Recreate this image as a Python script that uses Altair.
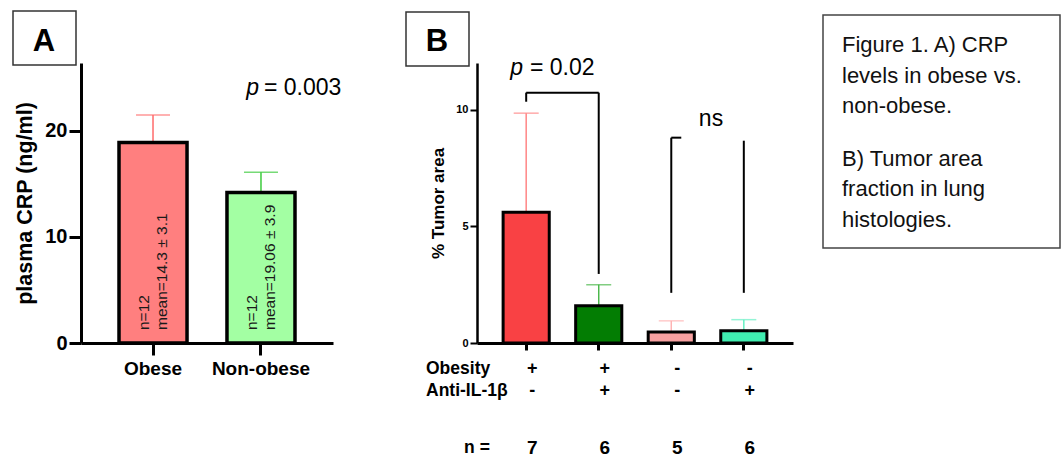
import altair as alt
import pandas as pd

FONT = "Liberation Sans"

# ---------------- Panel A data ----------------
groups_a = ["Obese", "Non-obese"]
crp_mean = [18.9, 14.2]
crp_err_top = [21.5, 16.1]
n_text_a = ["n=12", "n=12"]
mean_text_a = ["mean=14.3 ± 3.1", "mean=19.06 ± 3.9"]
bar_colors_a = ["#FF7F7F", "#A3FFA3"]
err_colors_a = ["#FF6B6B", "#3CCB3C"]

# ---------------- Panel B data ----------------
groups_b = ["G1", "G2", "G3", "G4"]
tumor_mean = [5.6, 1.6, 0.47, 0.52]
tumor_err_top = [9.85, 2.5, 0.95, 1.0]
obesity_signs = ["+", "+", "-", "-"]
anti_signs = ["-", "+", "-", "+"]
n_b = ["7", "6", "5", "6"]
bar_colors_b = ["#F94144", "#037D03", "#F7A0A0", "#40EDB0"]
err_colors_b = ["#FF8585", "#4CB84C", "#FFB3B3", "#66F0C4"]

# brackets (significance annotations)
vert_groups = ["G1", "G2", "G3", "G4"]
vert_top = [10.73, 10.73, 8.8, 8.67]
vert_bottom = [10.34, 2.96, 2.15, 2.15]
horiz_from = ["G1"]
horiz_to = ["G2"]
horiz_y = [10.73]
hook_group = ["G3"]
hook_y = [8.8]

row_labels = ["Obesity", "Anti-IL-1β", "n ="]
caption_a = ["Figure 1. A) CRP", "levels in obese vs.", "non-obese."]
caption_b = ["B) Tumor area", "fraction in lung", "histologies."]

# ====================== PANEL A ======================
WA, HA = 252, 280
dfa = pd.DataFrame({"group": groups_a, "mean": crp_mean, "err": crp_err_top,
                    "n": n_text_a, "m": mean_text_a})

xa = alt.X("group:N", sort=groups_a,
           scale=alt.Scale(paddingInner=0.37, paddingOuter=0.352),
           axis=alt.Axis(title=None, labelAngle=0, labelFont=FONT, labelFontSize=19,
                         labelFontWeight="bold", labelColor="black", tickSize=12,
                         tickWidth=3, tickColor="black", domainWidth=3,
                         domainColor="black", labelPadding=4))
ya_scale = alt.Scale(domain=[0, 26.4], nice=False, zero=True)
ya = alt.Y("mean:Q", scale=ya_scale,
           axis=alt.Axis(title="plasma CRP (ng/ml)", values=[0, 10, 20], labelFont=FONT,
                         labelFontSize=20, labelFontWeight="bold", labelColor="black",
                         tickSize=12, tickWidth=3, tickColor="black", domainWidth=3,
                         domainColor="black", labelPadding=2, titleFont=FONT,
                         titleFontSize=21.5, titleFontWeight="bold", titleColor="black",
                         titlePadding=8))

base_a = alt.Chart(dfa)
err_rule_a = base_a.mark_rule(strokeWidth=1.5).encode(
    x=xa, y=ya, y2="err:Q",
    color=alt.Color("group:N", scale=alt.Scale(domain=groups_a, range=err_colors_a), legend=None))
err_cap_a = base_a.mark_tick(size=34, thickness=1.5).encode(
    x=xa, y=alt.Y("err:Q", scale=ya_scale),
    color=alt.Color("group:N", scale=alt.Scale(domain=groups_a, range=err_colors_a), legend=None))
bars_a = base_a.mark_bar(stroke="black", strokeWidth=3.5).encode(
    x=xa, y=alt.Y("mean:Q", scale=ya_scale),
    fill=alt.Fill("group:N", scale=alt.Scale(domain=groups_a, range=bar_colors_a), legend=None))
txt_n_a = base_a.mark_text(angle=270, align="left", baseline="middle", font=FONT,
                           fontSize=15.5, color="#1a1a1a", xOffset=-9).encode(
    x=xa, y=alt.value(HA - 13), text="n:N")
txt_m_a = base_a.mark_text(angle=270, align="left", baseline="middle", font=FONT,
                           fontSize=15.5, color="#1a1a1a", xOffset=9).encode(
    x=xa, y=alt.value(HA - 13), text="m:N")

one = pd.DataFrame({"k": [0]})
box_a = alt.Chart(one).mark_rect(filled=False, stroke="#333", strokeWidth=1.5).encode(
    x=alt.value(-68), x2=alt.value(-5), y=alt.value(-52), y2=alt.value(2))
letter_a = alt.Chart(one).mark_text(text="A", font=FONT, fontSize=31, fontWeight="bold",
                                    color="black", align="center", baseline="middle").encode(
    x=alt.value(-37), y=alt.value(-21))
p_a = alt.Chart(one).mark_text(text="p", font=FONT, fontSize=23, fontStyle="italic",
                               color="black", align="right", baseline="middle").encode(
    x=alt.value(178), y=alt.value(25))
pv_a = alt.Chart(one).mark_text(text="= 0.003", font=FONT, fontSize=23,
                                color="black", align="left", baseline="middle").encode(
    x=alt.value(183), y=alt.value(25))

panel_a = alt.layer(err_rule_a, err_cap_a, bars_a, txt_n_a, txt_m_a, box_a, letter_a,
                    p_a, pv_a).properties(width=WA, height=HA)

# ====================== PANEL B ======================
WB, HB = 316, 280
dfb = pd.DataFrame({"group": groups_b, "mean": tumor_mean, "err": tumor_err_top,
                    "ob": obesity_signs, "anti": anti_signs, "n": n_b})

band_b = alt.Scale(paddingInner=0.364, paddingOuter=0.36)
xb = alt.X("group:N", sort=groups_b, scale=band_b,
           axis=alt.Axis(title=None, labels=False, tickSize=7, tickWidth=3,
                         tickColor="black", domainWidth=3, domainColor="black"))
yb_scale = alt.Scale(domain=[0, 12], nice=False, zero=True)
yb = alt.Y("mean:Q", scale=yb_scale,
           axis=alt.Axis(title="% Tumor area", values=[0, 5, 10], labelFont=FONT,
                         labelFontSize=11, labelFontWeight="bold", labelColor="black",
                         tickSize=7, tickWidth=2, tickColor="black", domainWidth=2.5,
                         domainColor="black", labelPadding=2, titleFont=FONT,
                         titleFontSize=17, titleFontWeight="bold", titleColor="black",
                         titlePadding=8))

base_b = alt.Chart(dfb)
err_rule_b = base_b.mark_rule(strokeWidth=1.5).encode(
    x=xb, y=yb, y2="err:Q",
    color=alt.Color("group:N", scale=alt.Scale(domain=groups_b, range=err_colors_b), legend=None))
err_cap_b = base_b.mark_tick(size=25, thickness=1.5).encode(
    x=xb, y=alt.Y("err:Q", scale=yb_scale),
    color=alt.Color("group:N", scale=alt.Scale(domain=groups_b, range=err_colors_b), legend=None))
bars_b = base_b.mark_bar(stroke="black", strokeWidth=3).encode(
    x=xb, y=alt.Y("mean:Q", scale=yb_scale),
    fill=alt.Fill("group:N", scale=alt.Scale(domain=groups_b, range=bar_colors_b), legend=None))

row_ob = base_b.mark_text(font=FONT, fontSize=18, fontWeight="bold", color="black",
                          baseline="middle", xOffset=6).encode(x=xb, y=alt.value(306), text="ob:N")
row_anti = base_b.mark_text(font=FONT, fontSize=18, fontWeight="bold", color="black",
                            baseline="middle", xOffset=6).encode(x=xb, y=alt.value(328), text="anti:N")
row_n = base_b.mark_text(font=FONT, fontSize=19, fontWeight="bold", color="black",
                         baseline="middle", xOffset=6).encode(x=xb, y=alt.value(385), text="n:N")

lab_layers = []
for lab, yy, xx, al in zip(row_labels, [306, 328, 385], [-51, -51, 0], ["left", "left", "center"]):
    lab_layers.append(alt.Chart(one).mark_text(text=lab, font=FONT, fontSize=17.5,
                                               fontWeight="bold", color="black", align=al,
                                               baseline="middle").encode(
        x=alt.value(xx), y=alt.value(yy)))

dv = pd.DataFrame({"group": vert_groups, "top": vert_top, "bottom": vert_bottom})
vert = alt.Chart(dv).mark_rule(color="black", strokeWidth=2).encode(
    x=alt.X("group:N", sort=groups_b, scale=band_b),
    y=alt.Y("top:Q", scale=yb_scale), y2="bottom:Q")
dh = pd.DataFrame({"g1": horiz_from, "g2": horiz_to, "y": horiz_y})
horiz = alt.Chart(dh).mark_rule(color="black", strokeWidth=2).encode(
    x=alt.X("g1:N", sort=groups_b, bandPosition=0.5, scale=band_b),
    x2=alt.X2("g2:N", bandPosition=0.5),
    y=alt.Y("y:Q", scale=yb_scale))
dk = pd.DataFrame({"g": hook_group, "y": hook_y})
hook = alt.Chart(dk).mark_rule(color="black", strokeWidth=2, x2Offset=10).encode(
    x=alt.X("g:N", sort=groups_b, bandPosition=0.5, scale=band_b),
    x2=alt.X2("g:N", bandPosition=0.5),
    y=alt.Y("y:Q", scale=yb_scale))

box_b = alt.Chart(one).mark_rect(filled=False, stroke="#333", strokeWidth=1.5).encode(
    x=alt.value(-71), x2=alt.value(-8), y=alt.value(-51), y2=alt.value(3))
letter_b = alt.Chart(one).mark_text(text="B", font=FONT, fontSize=31, fontWeight="bold",
                                    color="black", align="center", baseline="middle").encode(
    x=alt.value(-40), y=alt.value(-21))
p_b = alt.Chart(one).mark_text(text="p", font=FONT, fontSize=23, fontStyle="italic",
                               color="black", align="right", baseline="middle").encode(
    x=alt.value(46), y=alt.value(5))
pv_b = alt.Chart(one).mark_text(text="= 0.02", font=FONT, fontSize=23,
                                color="black", align="left", baseline="middle").encode(
    x=alt.value(53), y=alt.value(5))
ns_b = alt.Chart(one).mark_text(text="ns", font=FONT, fontSize=23,
                                color="black", align="center", baseline="middle").encode(
    x=alt.value(234), y=alt.value(56))

cap_box = alt.Chart(one).mark_rect(filled=False, stroke="#444", strokeWidth=1.5).encode(
    x=alt.value(346), x2=alt.value(583), y=alt.value(-48), y2=alt.value(185))
cap_layers = []
for line, yy in zip(caption_a + caption_b, [-18, 13, 43, 96, 126, 157]):
    cap_layers.append(alt.Chart(one).mark_text(text=line, font=FONT, fontSize=22,
                                               color="#111", align="left",
                                               baseline="middle").encode(
        x=alt.value(365), y=alt.value(yy)))

panel_b = alt.layer(err_rule_b, err_cap_b, bars_b, vert, horiz, hook, row_ob, row_anti,
                    row_n, *lab_layers, box_b, letter_b, p_b, pv_b, ns_b, cap_box,
                    *cap_layers).properties(width=WB, height=HB)

chart = alt.hconcat(panel_a, panel_b, spacing=63).resolve_scale(
    fill="independent", color="independent"
).properties(
    padding={"left": 12, "top": 10, "right": 0, "bottom": 0},
    background="white"
).configure_view(stroke=None).configure_axis(grid=False)

chart.save("out.html", embed_options={"renderer": "svg", "actions": False})
